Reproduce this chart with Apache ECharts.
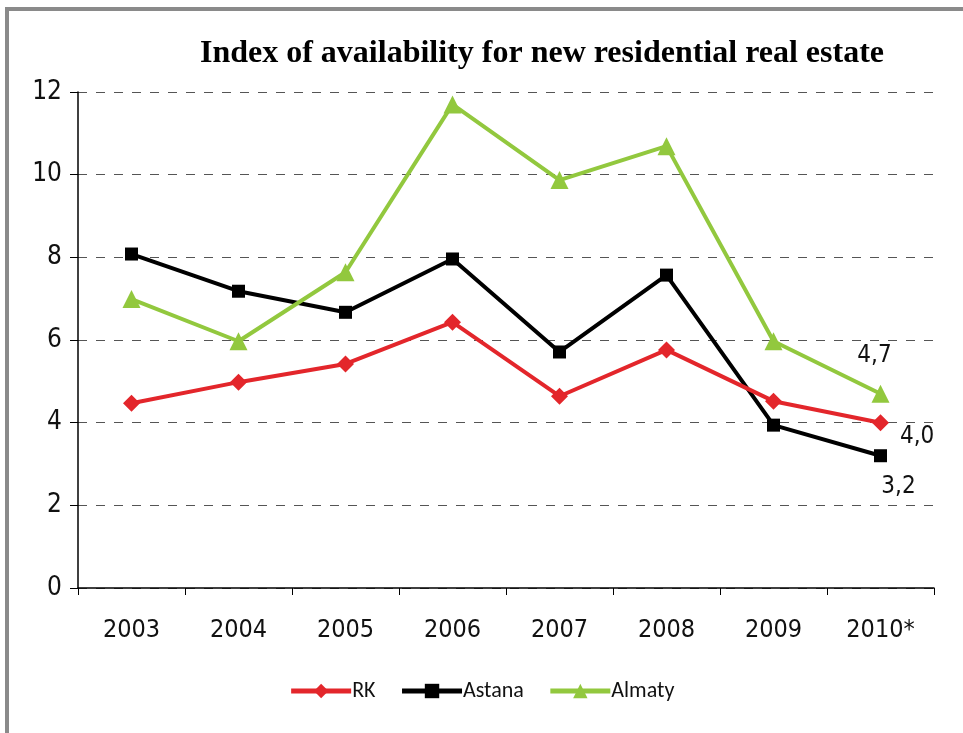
<!DOCTYPE html>
<html>
<head>
<meta charset="utf-8">
<script src="https://cdn.jsdelivr.net/npm/echarts@6/dist/echarts.min.js"></script>
<style>
  html, body { margin: 0; padding: 0; background: #fff; }
  #chart { width: 963px; height: 733px; }
</style>
</head>
<body>
<div id="chart"></div>
<script>
// Index of availability for new residential real estate, 2003–2010*
const years = ['2003', '2004', '2005', '2006', '2007', '2008', '2009', '2010*'];
const rk = [4.47, 4.98, 5.42, 6.43, 4.64, 5.76, 4.52, 4.0];
const astana = [8.08, 7.18, 6.67, 7.96, 5.71, 7.57, 3.94, 3.2];
const almaty = [6.99, 5.97, 7.64, 11.7, 9.87, 10.69, 5.97, 4.7];
const yTicks = [0, 2, 4, 6, 8, 10, 12];

const tickFont = "'DejaVu Sans Condensed', 'Liberation Sans Narrow', 'Liberation Sans', sans-serif";
const last = years.length - 1;

function withEndLabel(values, pos, offset) {
  return values.map((v, i) => i === last ? {
    value: v,
    label: {
      show: true, position: pos, offset: offset,
      formatter: p => p.value.toFixed(1).replace('.', ','),
      fontFamily: tickFont, fontSize: 24, color: '#111'
    }
  } : v);
}

const chart = echarts.init(document.getElementById('chart'), null, { renderer: 'canvas' });
chart.setOption({
  animation: false,
  backgroundColor: '#fff',
  title: {
    text: 'Index of availability for new residential real estate',
    left: 537, top: 33, textAlign: 'center',
    textStyle: { fontFamily: "'Liberation Serif', 'DejaVu Serif', serif", fontWeight: 'bold', fontSize: 32, color: '#000' }
  },
  graphic: [
    { type: 'rect', shape: { x: 5, y: 7, width: 958, height: 4 }, style: { fill: '#8a8a8a' }, silent: true },
    { type: 'rect', shape: { x: 5, y: 7, width: 4, height: 726 }, style: { fill: '#8a8a8a' }, silent: true }
  ],
  legend: {
    bottom: 26, left: 'center',
    itemWidth: 60, itemHeight: 18, itemGap: 24,
    lineStyle: { width: 5 },
    textStyle: { fontFamily: "'Carlito', 'Open Sans', 'Liberation Sans', sans-serif", fontSize: 22, color: '#111', padding: [0, 0, 0, -4] },
    data: ['RK', 'Astana', 'Almaty']
  },
  grid: { left: 78, right: 29, top: 92, bottom: 145, containLabel: false },
  xAxis: {
    type: 'category', data: years, boundaryGap: true,
    axisLine: { lineStyle: { color: '#000', width: 1.5 } },
    axisTick: { show: true, length: 7, lineStyle: { color: '#000' } },
    axisLabel: { margin: 30, fontFamily: tickFont, fontSize: 25, color: '#111' }
  },
  yAxis: {
    type: 'value', min: 0, max: 12, interval: 2,
    axisLine: { show: true, lineStyle: { color: '#000', width: 1.5 } },
    axisTick: { show: true, length: 8, lineStyle: { color: '#000' } },
    axisLabel: { margin: 16, fontFamily: tickFont, fontSize: 26, color: '#111',
      formatter: v => yTicks.includes(v) ? String(v) : '' },
    splitLine: { show: true, lineStyle: { color: '#555', type: [9, 9], width: 1 } }
  },
  series: [
    {
      name: 'RK', type: 'line', data: withEndLabel(rk, 'right', [6, 14]),
      symbol: 'diamond', symbolSize: 17,
      lineStyle: { color: '#e3262b', width: 4 }, itemStyle: { color: '#e3262b' }, z: 3
    },
    {
      name: 'Astana', type: 'line', data: withEndLabel(astana, 'bottom', [18, 8]),
      symbol: 'rect', symbolSize: 13,
      lineStyle: { color: '#000', width: 4 }, itemStyle: { color: '#000' }, z: 2
    },
    {
      name: 'Almaty', type: 'line', data: withEndLabel(almaty, 'top', [-6, -12]),
      symbol: 'triangle', symbolSize: 18,
      lineStyle: { color: '#92c83e', width: 4 }, itemStyle: { color: '#92c83e' }, z: 4
    }
  ]
});
</script>
</body>
</html>
